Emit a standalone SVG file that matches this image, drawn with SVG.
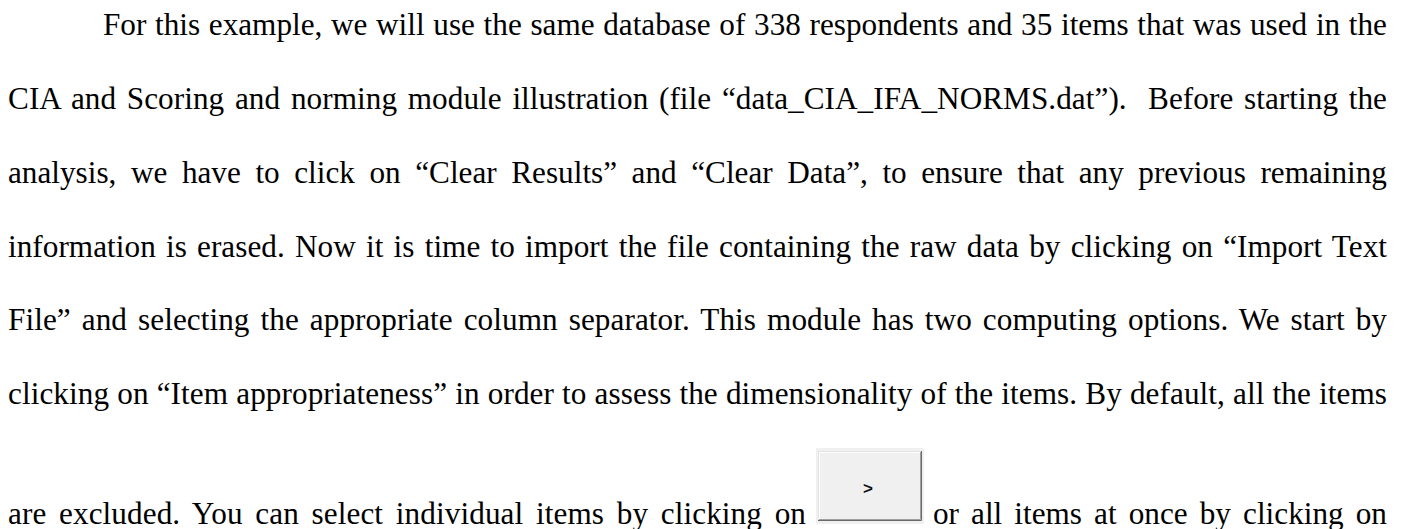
<svg xmlns="http://www.w3.org/2000/svg" width="1407" height="529" viewBox="0 0 1407 529">
<style>
.t{font-family:"Liberation Serif","Times New Roman",serif;font-size:32px;fill:#000;}
.btnlabel{font-family:"Liberation Sans",Arial,sans-serif;font-size:17px;font-weight:bold;fill:#111;}
</style>
<rect width="1407" height="529" fill="#fff"/>
<g id="paragraph" transform="scale(0.976,1)">
<text class="t" x="105.5" y="35" word-spacing="0.85" textLength="1315.6" lengthAdjust="spacing">For this example, we will use the same database of 338 respondents and 35 items that was used in the</text>
<text class="t" x="8.2" y="109" word-spacing="2.9" textLength="1412.9" lengthAdjust="spacing">CIA and Scoring and norming module illustration (file “data_CIA_IFA_NORMS.dat”).&#160; Before starting the</text>
<text class="t" x="8.2" y="183" word-spacing="6.9" textLength="1412.9" lengthAdjust="spacing">analysis, we have to click on “Clear Results” and “Clear Data”, to ensure that any previous remaining</text>
<text class="t" x="8.2" y="257" word-spacing="2.4" textLength="1412.9" lengthAdjust="spacing">information is erased. Now it is time to import the file containing the raw data by clicking on “Import Text</text>
<text class="t" x="8.2" y="330" word-spacing="3.2" textLength="1412.9" lengthAdjust="spacing">File” and selecting the appropriate column separator. This module has two computing options. We start by</text>
<text class="t" x="8.2" y="404" word-spacing="0.2" textLength="1412.9" lengthAdjust="spacing">clicking on “Item appropriateness” in order to assess the dimensionality of the items. By default, all the items</text>
<text class="t" x="8.2" y="524" word-spacing="4.9" textLength="817.6" lengthAdjust="spacing">are excluded. You can select individual items by clicking on</text>
<text class="t" x="955.9" y="524" word-spacing="4.4" textLength="465.2" lengthAdjust="spacing">or all items at once by clicking on</text>
</g>
<g id="button">
<rect x="816" y="448" width="108" height="76" fill="#f0f0f0"/>
<rect x="818" y="451" width="103" height="70" fill="#f0f0f0"/>
<path d="M818.5 520.5 V451.5 H920.5" fill="none" stroke="#e3e3e3" stroke-width="1"/>
<path d="M819.5 519.5 V452.5 H919.5" fill="none" stroke="#ffffff" stroke-width="1"/>
<path d="M818 520.5 H921.5 V451" fill="none" stroke="#696969" stroke-width="1"/>
<path d="M819 519.5 H920.5 V452" fill="none" stroke="#a0a0a0" stroke-width="1"/>
<text class="btnlabel" x="868" y="494" text-anchor="middle">&gt;</text>
</g>
</svg>
